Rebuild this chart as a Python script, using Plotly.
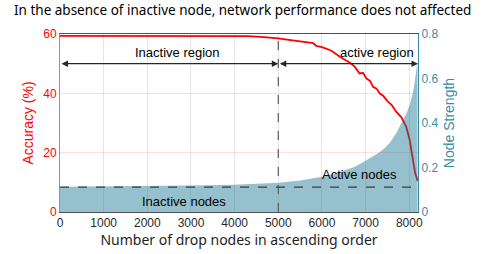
import plotly.graph_objects as go

# Accuracy curve (left axis)
drop_x = [0, 500, 1000, 1500, 2000, 2500, 3000, 3500, 4000, 4300, 4600, 4800, 5000,
          5200, 5420, 5600, 5800, 5870, 6000, 6180, 6250, 6410, 6500, 6640, 6750,
          6860, 6940, 7020, 7100, 7170, 7250, 7320, 7400, 7510, 7600, 7700, 7820,
          7930, 8010, 8080, 8130, 8190]
accuracy = [59.4, 59.4, 59.4, 59.4, 59.4, 59.4, 59.4, 59.5, 59.5, 59.3, 59.0, 58.8, 58.5,
            58.1, 57.7, 57.3, 56.9, 56.0, 55.6, 54.6, 54.0, 52.3, 51.6, 50.3, 49.0,
            46.7, 46.9, 45.0, 44.2, 42.2, 41.6, 40.0, 39.2, 37.2, 36.0, 33.8, 31.9,
            28.8, 24.3, 17.5, 13.5, 10.5]

# Node strength (right axis)
ns_x = [0, 1000, 2000, 3000, 4000, 4500, 5000, 5500, 6000, 6300, 6560, 6750, 6940,
        7100, 7320, 7450, 7550, 7700, 7860, 7950, 8010, 8070, 8120, 8160, 8190]
strength = [0.114, 0.115, 0.117, 0.119, 0.123, 0.127, 0.132, 0.142, 0.158, 0.172, 0.189,
            0.203, 0.224, 0.243, 0.268, 0.290, 0.310, 0.354, 0.413, 0.450, 0.481, 0.525,
            0.578, 0.630, 0.680]

x_ticks = [0, 1000, 2000, 3000, 4000, 5000, 6000, 7000, 8000]
acc_ticks = [0, 20, 40, 60]
ns_ticks = [0, 0.2, 0.4, 0.6, 0.8]

split_x = 5000
arrow_y = 50
threshold = 0.112

RED = "rgb(255,0,0)"
TEAL = "rgb(55,140,165)"
FONT = "Liberation Sans, Arial, sans-serif"
SANS2 = "Noto Sans, sans-serif"

fig = go.Figure()
fig.add_trace(go.Scatter(x=drop_x, y=accuracy, mode="lines",
                         line=dict(color=RED, width=1.8), yaxis="y", showlegend=False))
fig.add_trace(go.Scatter(x=ns_x, y=strength, mode="lines", fill="tozeroy",
                         fillcolor="rgba(22,115,144,0.45)", line=dict(width=0),
                         yaxis="y2", showlegend=False))

shapes = [
    dict(type="line", xref="x", yref="y", x0=split_x, x1=split_x, y0=0, y1=60,
         line=dict(color="rgb(90,90,90)", width=1.2, dash="dash")),
    dict(type="line", xref="x", yref="y2", x0=0, x1=8200, y0=threshold, y1=threshold,
         line=dict(color="rgb(60,60,60)", width=1.2, dash="dash")),
]

annotations = [
    dict(x=split_x, y=arrow_y, ax=0, ay=arrow_y, xref="x", yref="y", axref="x", ayref="y",
         text="", showarrow=True, arrowside="end+start", arrowhead=2, startarrowhead=2,
         arrowsize=1, startarrowsize=1, arrowwidth=1.3, arrowcolor="rgb(40,40,40)"),
    dict(x=8200, y=arrow_y, ax=split_x, ay=arrow_y, xref="x", yref="y", axref="x", ayref="y",
         text="", showarrow=True, arrowside="end+start", arrowhead=2, startarrowhead=2,
         arrowsize=1, startarrowsize=1, arrowwidth=1.3, arrowcolor="rgb(40,40,40)"),
    dict(x=2700, y=53.8, xref="x", yref="y", text="Inactive region", showarrow=False,
         font=dict(family=FONT, size=13, color="black")),
    dict(x=7250, y=53.8, xref="x", yref="y", text="active region", showarrow=False,
         font=dict(family=FONT, size=13, color="black")),
    dict(x=6850, y=0.17, xref="x", yref="y2", text="Active nodes", showarrow=False,
         font=dict(family=FONT, size=13, color="black")),
    dict(x=2850, y=0.046, xref="x", yref="y2", text="Inactive nodes", showarrow=False,
         font=dict(family=FONT, size=13, color="black")),
    dict(x=0.51, y=1, xref="paper", yref="paper", xanchor="center", yanchor="bottom",
         yshift=13, text="In the absence of inactive node, network performance does not affected",
         showarrow=False, font=dict(family=SANS2, size=13.5, color="black")),
]

fig.update_layout(
    width=485, height=254,
    margin=dict(l=60, r=67, t=34, b=42, autoexpand=False),
    paper_bgcolor="white", plot_bgcolor="white",
    font=dict(family=FONT, size=12),
    shapes=shapes, annotations=annotations,
    xaxis=dict(range=[0, 8200], tickvals=x_ticks, ticks="", showgrid=True, automargin=False,
               gridcolor="rgba(0,0,0,0.1)", gridwidth=1, zeroline=False,
               showline=True, linecolor="rgb(80,80,80)", linewidth=1, mirror=True,
               tickfont=dict(size=12, color="rgb(40,40,40)"),
               title=dict(text="Number of drop nodes in ascending order", standoff=0,
                          font=dict(family=SANS2, size=14, color="rgb(30,30,30)"))),
    yaxis=dict(range=[0, 60], tickvals=acc_ticks, ticks="", showgrid=True, automargin=False,
               gridcolor="rgba(255,0,0,0.12)", zeroline=False,
               showline=True, linecolor="rgba(255,0,0,0.6)", linewidth=1,
               tickfont=dict(size=12, color=RED),
               title=dict(text="Accuracy (%)", standoff=6, font=dict(size=14, color=RED))),
    yaxis2=dict(range=[0, 0.8], tickvals=ns_ticks, overlaying="y", side="right",
                ticks="", showgrid=False, zeroline=False, automargin=False,
                showline=True, linecolor=TEAL, linewidth=1,
                tickfont=dict(size=12, color=TEAL),
                title=dict(text="Node Strength", standoff=6, font=dict(size=14, color=TEAL))),
)

fig.write_html("out.html", config={"displayModeBar": False},
               post_script="document.body.style.margin='0';document.body.style.overflow='hidden';")
